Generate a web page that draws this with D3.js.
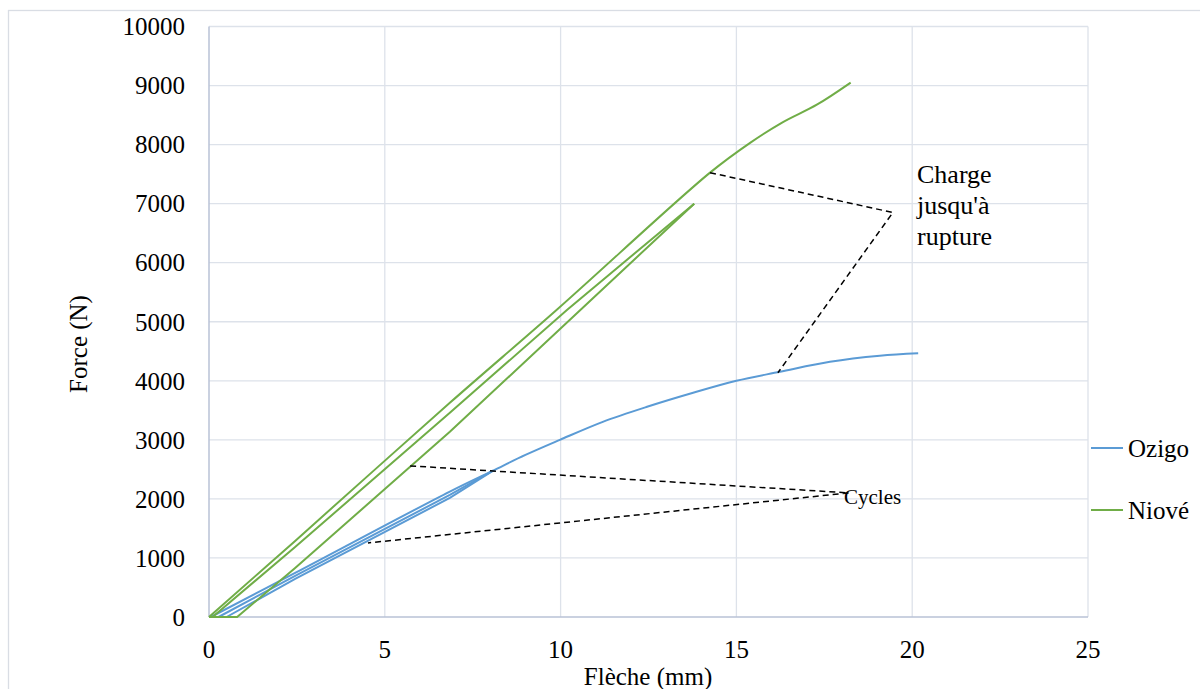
<!DOCTYPE html>
<html>
<head>
<meta charset="utf-8">
<script src="https://cdn.jsdelivr.net/npm/d3@7"></script>
<style>
  body { margin: 0; background: #fff; }
  svg text { font-family: "Liberation Serif", "DejaVu Serif", serif; fill: #000; }
  .grid line { stroke: #dde2ea; stroke-width: 1.3; }
  .axis-line { stroke: #b8c2d6; stroke-width: 1.5; }
</style>
</head>
<body>
<svg id="chart" width="1200" height="689" font-family="Liberation Serif"></svg>
<script>
// Ozigo (blue): cyclic loading then loading to rupture
const ozigoLoad = [[0.27, 0], [2.45, 695], [6.85, 2068], [8.08, 2480]];
const ozigoUnload = [[8.08, 2480], [6.85, 2017], [2.45, 644], [0.5, 0]];
const ozigoRupture = [[0.05, 0], [2.45, 746], [6.85, 2124], [8.08, 2480], [9.0, 2745],
  [9.98, 3000], [11.2, 3305], [12.46, 3560], [13.77, 3797], [15.0, 4000],
  [16.24, 4153], [17.66, 4322], [19.08, 4424], [20.17, 4465]];

// Niové (green)
const nioveLoad = [[0.1, 0], [2.45, 1186], [6.85, 3458], [10.18, 5200], [13.8, 7000]];
const nioveUnload = [[13.8, 7000], [10.6, 5221], [6.85, 3136], [2.45, 830], [0.8, 0], [0, 0]];
const nioveRupture = [[0, 0], [2.45, 1289], [6.85, 3627], [9.9, 5207], [14.25, 7525],
  [15.4, 8034], [16.3, 8373], [17.3, 8680], [18.25, 9050]];

// annotation leaders (data coords)
const chargeLeader = [[14.25, 7525], [19.45, 6850], [16.18, 4136]];
const cyclesLeader = [[5.72, 2559], [18.2, 2102], [4.52, 1254]];

const xTicks = [0, 5, 10, 15, 20, 25];
const yTicks = [0, 1000, 2000, 3000, 4000, 5000, 6000, 7000, 8000, 9000, 10000];

const series = [
  { name: "Ozigo", color: "#5b9bd5", parts: [ozigoLoad, ozigoUnload, ozigoRupture] },
  { name: "Niové", color: "#70ad47", parts: [nioveLoad, nioveUnload, nioveRupture] }
];

const svg = d3.select("#chart");

// outer chart border
svg.append("rect")
  .attr("x", 8.5).attr("y", 10.5)
  .attr("width", 1200).attr("height", 700)
  .attr("fill", "none").attr("stroke", "#d9dde4").attr("stroke-width", 1.3);

const x = d3.scaleLinear().domain([0, 25]).range([209, 1088]);
const y = d3.scaleLinear().domain([0, 10000]).range([617, 26.5]);

// gridlines
const grid = svg.append("g").attr("class", "grid");
grid.selectAll(".h").data(yTicks.slice(1)).join("line")
  .attr("x1", x(0)).attr("x2", x(25))
  .attr("y1", d => y(d)).attr("y2", d => y(d));
grid.selectAll(".v").data(xTicks.slice(1)).join("line")
  .attr("y1", y(0)).attr("y2", y(10000))
  .attr("x1", d => x(d)).attr("x2", d => x(d));

// axis lines
svg.append("line").attr("class", "axis-line")
  .attr("x1", x(0)).attr("x2", x(0)).attr("y1", y(0)).attr("y2", y(10000));
svg.append("line").attr("class", "axis-line")
  .attr("x1", x(0)).attr("x2", x(25)).attr("y1", y(0)).attr("y2", y(0));

// tick labels
svg.selectAll(".ylab").data(yTicks).join("text")
  .attr("font-size", 25)
  .attr("x", 185).attr("y", d => y(d))
  .attr("dy", "0.35em").attr("text-anchor", "end")
  .text(d => d);
svg.selectAll(".xlab").data(xTicks).join("text")
  .attr("font-size", 25)
  .attr("x", d => x(d)).attr("y", 658)
  .attr("text-anchor", "middle")
  .text(d => d);

// axis titles
svg.append("text")
  .attr("transform", "translate(87,344) rotate(-90)")
  .attr("text-anchor", "middle").attr("font-size", 25)
  .text("Force (N)");
svg.append("text")
  .attr("x", 648).attr("y", 685)
  .attr("text-anchor", "middle").attr("font-size", 25)
  .text("Flèche (mm)");

// series: cycles drawn straight, rupture curves smoothed
const straight = d3.line().x(d => x(d[0])).y(d => y(d[1]));
const smooth = d3.line()
  .x(d => x(d[0])).y(d => y(d[1]))
  .curve(d3.curveCatmullRom.alpha(0.5));

series.forEach(s => {
  s.parts.forEach((p, i) => {
    svg.append("path")
      .datum(p)
      .attr("d", i === 2 ? smooth : straight)
      .attr("fill", "none")
      .attr("stroke", s.color)
      .attr("stroke-width", 2);
  });
});

// annotation leaders
[chargeLeader, cyclesLeader].forEach(l => {
  svg.append("path")
    .datum(l)
    .attr("d", straight)
    .attr("fill", "none")
    .attr("stroke", "#000")
    .attr("stroke-width", 1.5)
    .attr("stroke-dasharray", "6,4");
});

const charge = svg.append("text").attr("font-size", 26);
["Charge", "jusqu'à", "rupture"].forEach((t, i) => {
  charge.append("tspan").attr("x", 917).attr("y", 183 + i * 31).text(t);
});
svg.append("text")
  .attr("x", 844).attr("y", 504)
  .attr("font-size", 21)
  .text("Cycles");

// legend
const legend = svg.selectAll(".legend").data(series).join("g")
  .attr("transform", (d, i) => `translate(1091,${448 + i * 62})`);
legend.append("line")
  .attr("x1", 0).attr("x2", 32)
  .attr("stroke", d => d.color).attr("stroke-width", 2);
legend.append("text")
  .attr("x", 37).attr("y", 0).attr("dy", "0.35em")
  .attr("font-size", 25)
  .text(d => d.name);
</script>
</body>
</html>
